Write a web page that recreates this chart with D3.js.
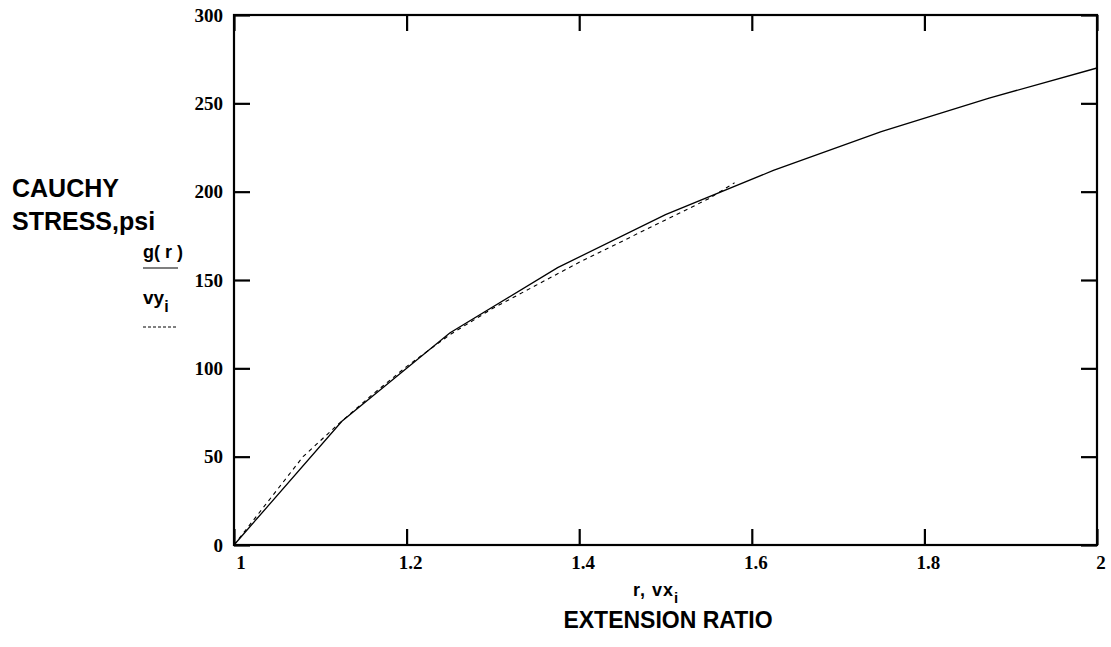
<!DOCTYPE html>
<html>
<head>
<meta charset="utf-8">
<script src="https://cdn.jsdelivr.net/npm/d3@7"></script>
<style>
    body { margin: 0; background: #fff; }
    svg { display: block; }
    .tick-label { font-family: "Liberation Serif", "Times New Roman", serif; font-weight: bold; font-size: 19px; fill: #000; }
    .title { font-family: "Liberation Sans", Arial, sans-serif; font-weight: bold; fill: #000; }
</style>
</head>
<body>
<svg id="chart" width="1111" height="647"></svg>
<script>
// g(r) - model curve (solid)
var rValues = [1, 1.125, 1.25, 1.375, 1.5, 1.625, 1.75, 1.875, 2];
var gValues = [0, 70, 120, 157, 187, 212, 234, 253, 270];

// vx, vy - test data (dashed)
var vxValues = [1, 1.04, 1.08, 1.12, 1.16, 1.2, 1.25, 1.3, 1.35, 1.4, 1.45, 1.5, 1.55, 1.58];
var vyValues = [0, 25, 50, 68, 85, 101, 119, 134, 147, 160, 172, 184, 196, 205];

var xTicks = [1, 1.2, 1.4, 1.6, 1.8, 2];
var yTicks = [0, 50, 100, 150, 200, 250, 300];

var svg = d3.select("#chart");

// plot box (window.top is taken, so p* names)
var pLeft = 234,
    pRight = 1097,
    pTop = 15,
    pBottom = 545,
    tickLen = 16;

var x = d3.scaleLinear().domain([1, 2]).range([pLeft, pRight]);
var y = d3.scaleLinear().domain([0, 300]).range([pBottom, pTop]);

var g = svg.append("g");

// ticks, pointing inward on all four sides
function drawTicks(axis, translate) {
    var a = g.append("g")
        .attr("transform", translate)
        .call(axis);
    a.select(".domain").remove();
    a.selectAll(".tick line").attr("stroke", "#000").attr("stroke-width", 2.2);
    return a;
}

drawTicks(d3.axisTop(x).tickValues(xTicks).tickSize(tickLen).tickFormat(""), "translate(0," + pBottom + ")");
drawTicks(d3.axisBottom(x).tickValues(xTicks).tickSize(tickLen).tickFormat(""), "translate(0," + pTop + ")");
drawTicks(d3.axisRight(y).tickValues(yTicks).tickSize(tickLen).tickFormat(""), "translate(" + pLeft + ",0)");
drawTicks(d3.axisLeft(y).tickValues(yTicks).tickSize(tickLen).tickFormat(""), "translate(" + pRight + ",0)");

// frame
g.append("rect")
    .attr("x", pLeft)
    .attr("y", pTop)
    .attr("width", pRight - pLeft)
    .attr("height", pBottom - pTop)
    .attr("fill", "none")
    .attr("stroke", "#000")
    .attr("stroke-width", 2.2);

// tick labels
g.selectAll(".ylab")
    .data(yTicks)
    .enter().append("text")
    .attr("class", "tick-label")
    .attr("x", pLeft - 11)
    .attr("y", function (d) { return y(d); })
    .attr("dy", "0.35em")
    .attr("text-anchor", "end")
    .text(function (d) { return d; });

g.selectAll(".xlab")
    .data(xTicks)
    .enter().append("text")
    .attr("class", "tick-label")
    .attr("x", function (d) { return x(d) + (d === 1 ? 7 : 4); })
    .attr("y", pBottom + 24)
    .attr("text-anchor", "middle")
    .text(function (d) { return d; });

// curves
var line = d3.line()
    .x(function (d) { return x(d[0]); })
    .y(function (d) { return y(d[1]); });

g.append("path")
    .datum(vxValues.map(function (v, i) { return [v, vyValues[i]]; }))
    .attr("d", line)
    .attr("fill", "none")
    .attr("stroke", "#000")
    .attr("stroke-width", 1.1)
    .attr("stroke-dasharray", "4,4");

g.append("path")
    .datum(rValues.map(function (v, i) { return [v, gValues[i]]; }))
    .attr("d", line)
    .attr("fill", "none")
    .attr("stroke", "#000")
    .attr("stroke-width", 1.3);

// y title + legend
svg.append("text").attr("class", "title")
    .attr("x", 12).attr("y", 197)
    .style("font-size", "25px")
    .text("CAUCHY");
svg.append("text").attr("class", "title")
    .attr("x", 12).attr("y", 230)
    .style("font-size", "25px")
    .text("STRESS,psi");

svg.append("text").attr("class", "title")
    .attr("x", 143).attr("y", 258)
    .style("font-size", "18px")
    .text("g( r )");
svg.append("line")
    .attr("x1", 143).attr("x2", 178)
    .attr("y1", 268).attr("y2", 268)
    .attr("stroke", "#000").attr("stroke-width", 1.2);

var vy = svg.append("text").attr("class", "title")
    .attr("x", 143).attr("y", 304)
    .style("font-size", "19px");
vy.append("tspan").text("vy");
vy.append("tspan").attr("dy", 8).style("font-size", "16px").text("i");
svg.append("line")
    .attr("x1", 143).attr("x2", 178)
    .attr("y1", 327).attr("y2", 327)
    .attr("stroke", "#000").attr("stroke-width", 1)
    .attr("stroke-dasharray", "3,2");

// x title
var rx = svg.append("text").attr("class", "title")
    .attr("x", 633).attr("y", 596)
    .style("font-size", "18px")
    .style("letter-spacing", "1px");
rx.append("tspan").text("r, vx");
rx.append("tspan").attr("dy", 7).style("font-size", "15px").text("i");

svg.append("text").attr("class", "title")
    .attr("x", 668).attr("y", 628)
    .attr("text-anchor", "middle")
    .style("font-size", "23px")
    .text("EXTENSION RATIO");
</script>
</body>
</html>
